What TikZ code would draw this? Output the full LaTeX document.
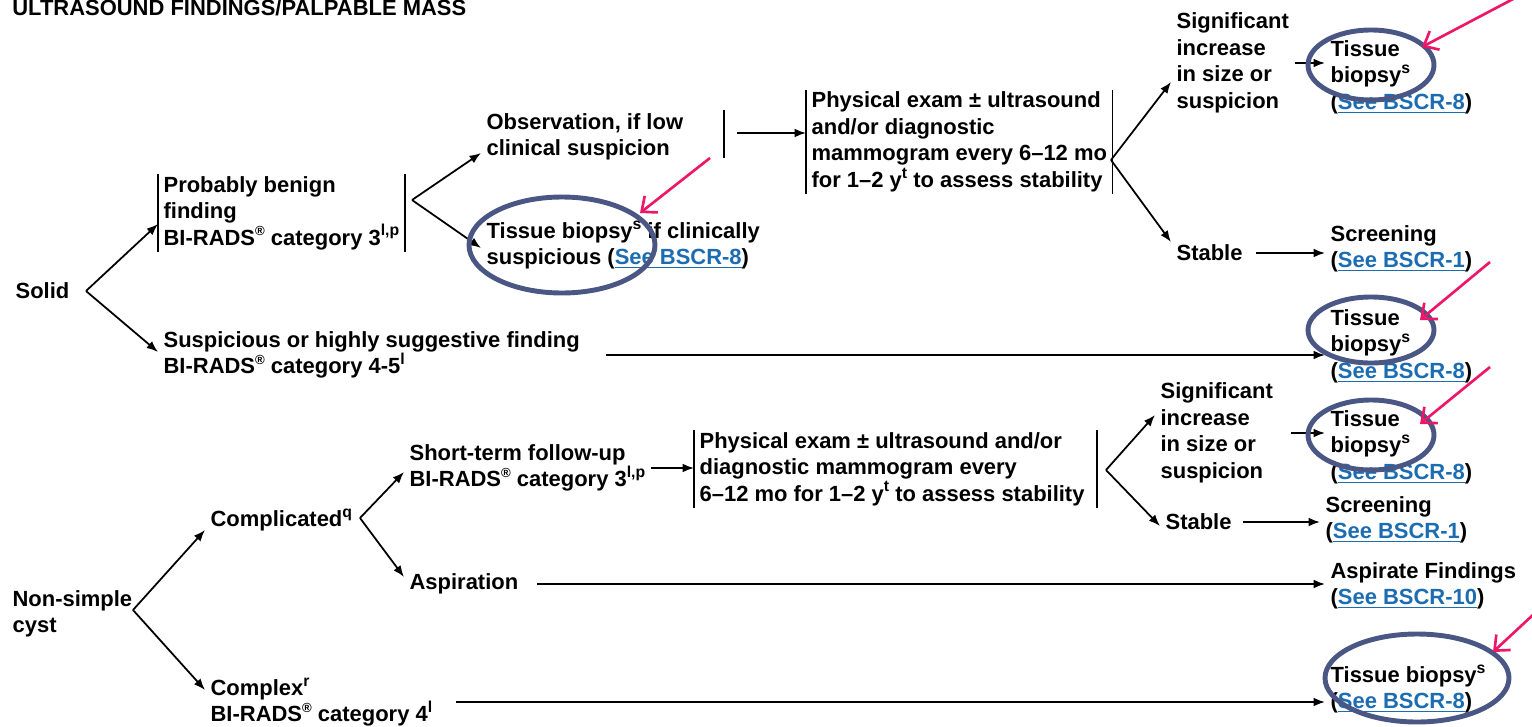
\documentclass[tikz,border=0pt]{standalone}
\usepackage{fontspec}
\setmainfont{Liberation Sans}
\usepackage{tikz}
\usetikzlibrary{arrows.meta}
\definecolor{linkblue}{RGB}{28,108,178}
\definecolor{ringblue}{RGB}{74,86,132}
\definecolor{notepink}{RGB}{238,22,102}
\newcommand{\bscr}[1]{(\textcolor{linkblue}{\underline{See BSCR-#1}})}
\newcommand{\note}[1]{\raisebox{0.42em}{\fontsize{9}{9}\selectfont #1}}
\newcommand{\birads}{BI-RADS\raisebox{0.42em}{\fontsize{7.5}{7.5}\selectfont\textregistered}}

\begin{document}
\begin{tikzpicture}[x=0.02cm,y=-0.02cm,
    font=\fontsize{12.5}{15.1}\selectfont\bfseries,
    box/.style={anchor=west,align=left,inner xsep=3pt,inner ysep=1pt},
    arr/.style={line width=1pt,-{Latex[length=6.5pt,width=5pt]}},
    bar/.style={line width=0.9pt},
    ring/.style={draw=ringblue,line width=2.8pt},
    pinkarr/.style={draw=notepink,line width=1.5pt,-{Straight Barb[length=7pt,width=12pt]}}]

      \useasboundingbox (0,0) rectangle (1532,727);

      \node [anchor=base west,inner sep=0pt] (title) at (12,15) {ULTRASOUND FINDINGS/PALPABLE MASS};

      % solid
      \node [box] (solid) at (10,291) {Solid};
      \node [box] (pb) at (158,213) {Probably benign\\finding\\\birads{} category 3\note{l,p}};
      \node [box] (susp) at (158,355) {Suspicious or highly suggestive finding\\\birads{} category 4-5\note{l}};
      \node [box] (obs) at (481,137) {Observation, if low\\clinical suspicion};
      \node [box] (tbc) at (481,245) {Tissue biopsy\note{s} if clinically\\suspicious \bscr{8}};
      \node [box] (pe1) at (806,142) {Physical exam ± ultrasound\\and/or diagnostic\\mammogram every 6–12 mo\\for 1–2 y\note{t} to assess stability};
      \node [box] (sig1) at (1171,63) {Significant\\increase\\in size or\\suspicion};
      \node [box] (stable1) at (1171,253) {Stable};
      \node [box] (tb1) at (1325,77) {Tissue\\biopsy\note{s}\\\bscr{8}};
      \node [box] (scr1) at (1325,249) {Screening\\\bscr{1}};
      \node [box] (tb2) at (1325,346) {Tissue\\biopsy\note{s}\\\bscr{8}};

      % non-simple cyst
      \node [box] (nsc) at (7,614) {Non-simple\\cyst};
      \node [box] (compl) at (205,520) {Complicated\note{q}};
      \node [box] (cplx) at (205,702) {Complex\note{r}\\\birads{} category 4\note{l}};
      \node [box] (stf) at (404,468) {Short-term follow-up\\\birads{} category 3\note{l,p}};
      \node [box] (asp) at (404,584) {Aspiration};
      \node [box] (pe2) at (694,469) {Physical exam ± ultrasound and/or\\diagnostic mammogram every\\6–12 mo for 1–2 y\note{t} to assess stability};
      \node [box] (sig2) at (1155,433) {Significant\\increase\\in size or\\suspicion};
      \node [box] (stable2) at (1160,522) {Stable};
      \node [box] (tb3) at (1325,447) {Tissue\\biopsy\note{s}\\\bscr{8}};
      \node [box] (scr2) at (1320,520) {Screening\\\bscr{1}};
      \node [box] (af) at (1325,586) {Aspirate Findings\\\bscr{10}};
      \node [box] (tb4) at (1325,689) {Tissue biopsy\note{s}\\\bscr{8}};

      \draw [bar] (pb.north west) -- (pb.south west);
      \draw [bar] (pb.north east) -- (pb.south east);
      \draw [bar] (724,110) -- (724,158);
      \draw [bar] (pe1.north west) -- (pe1.south west);
      \draw [bar] (pe1.north east) -- (pe1.south east);
      \draw [bar] (pe2.north west) -- (pe2.south west);
      \draw [bar] ([xshift=0.14cm]pe2.north east) -- ([xshift=0.14cm]pe2.south east);

      \coordinate (solidv) at (86,291);
      \coordinate (pbv) at (412,200);
      \coordinate (obsout) at (737,133);
      \coordinate (pe1v) at (1111,160);
      \coordinate (nscv) at (133,610);
      \coordinate (complv) at (360,518);
      \coordinate (pe2v) at (1106,470);

      \draw [arr] (solidv) -- (pb.west |- 0,224);
      \draw [arr] (solidv) -- (susp.west |- 0,352);
      \draw [arr] (pbv) -- (obs.west |- 0,153);
      \draw [arr] (pbv) -- (tbc.west |- 0,248);
      \draw [arr] (obsout) -- (obsout -| pe1.west);
      \draw [arr] (pe1v) -- (sig1.west |- 0,82);
      \draw [arr] (pe1v) -- (stable1.west |- 0,242);
      \draw [arr] (sig1.east) -- (sig1.east -| tb1.west);
      \draw [arr,shorten <=0.16cm] (stable1.east) -- (stable1.east -| scr1.west);
      \draw [arr,shorten <=0.42cm] (susp.east) -- (susp.east -| tb2.west);

      \draw [arr] (nscv) -- (compl.west |- 0,530);
      \draw [arr] (nscv) -- (cplx.west |- 0,690);
      \draw [arr] (complv) -- (stf.west |- 0,472);
      \draw [arr] (complv) -- (asp.west |- 0,577);
      \draw [arr] (stf.east) -- (stf.east -| pe2.west);
      \draw [arr] (pe2v) -- (sig2.west |- 0,415);
      \draw [arr] (pe2v) -- (stable2.west |- 0,526);
      \draw [arr,shorten <=0.24cm] (sig2.east) -- (sig2.east -| tb3.west);
      \draw [arr,shorten <=0.12cm] (stable2.east) -- (stable2.east -| scr2.west);
      \draw [arr,shorten <=0.26cm] (asp.east) -- (asp.east -| af.west);
      \draw [arr,shorten <=0.36cm] (cplx.east) -- (cplx.east -| tb4.west);

      % marks
      \draw [ring] (562,245) ellipse [x radius=93,y radius=48];
      \draw [ring] (1371,65) ellipse [x radius=63,y radius=35];
      \draw [ring] (1371,330) ellipse [x radius=63,y radius=33];
      \draw [ring] (1371,435) ellipse [x radius=63,y radius=35];
      \draw [ring] (1417,678) ellipse [x radius=92,y radius=44];
      \draw [pinkarr] (710,158) -- (640,213);
      \draw [pinkarr] (1515,-2) -- (1422,47);
      \draw [pinkarr] (1490,262) -- (1420,320);
      \draw [pinkarr] (1490,367) -- (1420,424);
      \draw [pinkarr] (1535,613) -- (1493,652);

    \end{tikzpicture}
\end{document}
